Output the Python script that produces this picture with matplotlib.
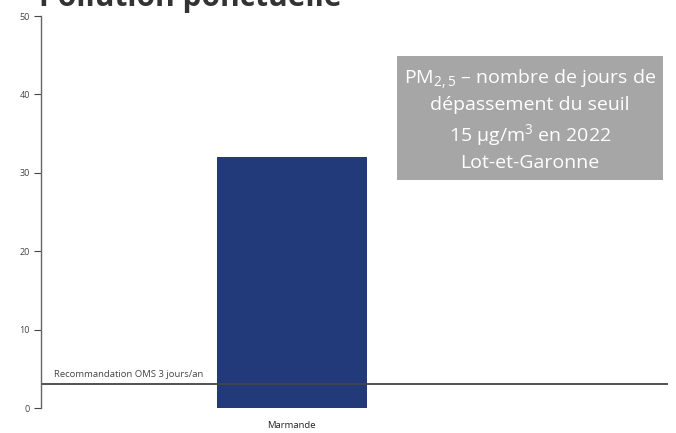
import matplotlib.pyplot as plt

plt.rcParams['font.family'] = ['Open Sans', 'DejaVu Sans']
plt.rcParams['mathtext.fontset'] = 'custom'
plt.rcParams['mathtext.rm'] = 'Open Sans'

categories = ['Marmande']
days = [32]
threshold = 3
threshold_label = 'Recommandation OMS 3 jours/an'
y_ticks = [0, 10, 20, 30, 40, 50]
title = 'Pollution ponctuelle'
box_text = ('PM$_{2,5}$ – nombre de jours de\n'
            'dépassement du seuil\n'
            '15 µg/m$^{3}$ en 2022\n'
            'Lot-et-Garonne')

fig = plt.figure(figsize=(6.76, 4.33), dpi=100)
ax = fig.add_axes([0.0607, 0.0577, 0.9273, 0.9053])

ax.bar(range(len(categories)), days, width=0.24, color='#223a7a')
ax.axhline(threshold, color='#444444', lw=1.3)
ax.text(-0.38, threshold + 0.9, threshold_label, fontsize=6.8, color='#444444')

ax.set_xlim(-0.4, 0.6)
ax.set_ylim(0, 50)
ax.set_yticks(y_ticks)
ax.set_xticks(range(len(categories)))
ax.set_xticklabels(categories)
ax.tick_params(axis='y', labelsize=6.5, colors='#444444', length=5, width=0.8, pad=3)
ax.tick_params(axis='x', labelsize=6.8, colors='#222222', length=0, pad=9)
for s in ['top', 'right', 'bottom']:
    ax.spines[s].set_visible(False)
ax.spines['left'].set_color('#666666')
ax.spines['left'].set_linewidth(1)

ax.text(0.78, 0.736, box_text, transform=ax.transAxes, ha='center', va='center',
        fontsize=14, color='white', linespacing=1.4,
        bbox=dict(boxstyle='square,pad=0.38', fc='#a6a6a6', ec='none'))

fig.text(0.057, 0.986, title, fontsize=21.5, fontweight='bold', color='#333333',
         va='baseline')

fig.savefig('out.png', dpi=100)
